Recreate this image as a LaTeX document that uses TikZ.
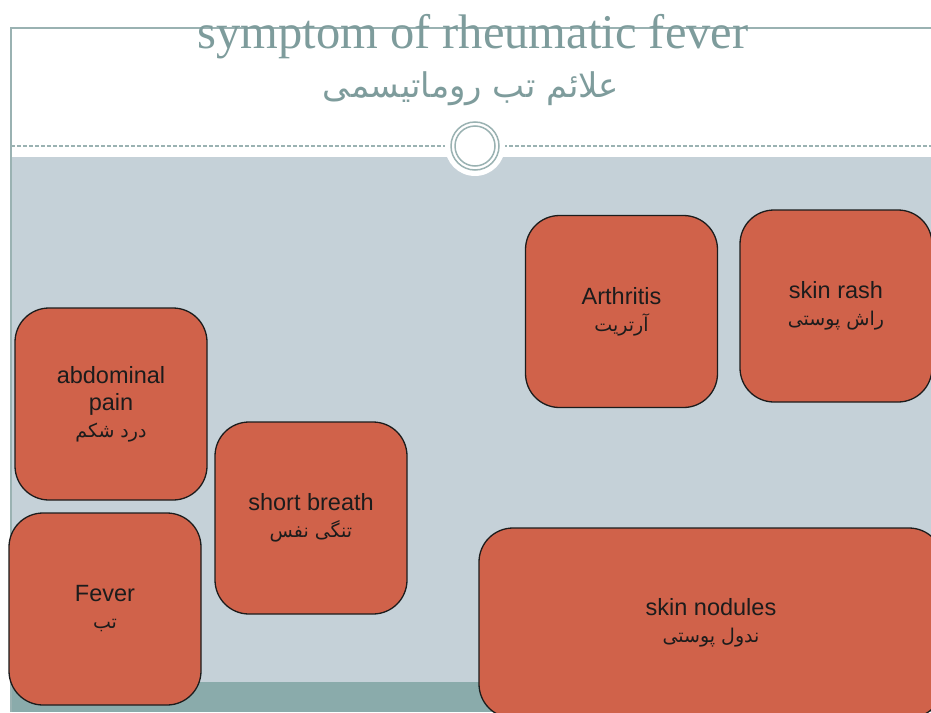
\documentclass[tikz,border=0pt]{standalone}
\usepackage{fontspec}
\setmainfont{Liberation Sans}
\newfontfamily\titlefont{Liberation Serif}
\newfontfamily\fa[Script=Arabic]{DejaVu Sans}
\TeXXeTstate=1
\definecolor{framec}{HTML}{9AB2B2}
\definecolor{titlec}{HTML}{7E9C9C}
\definecolor{bgc}{HTML}{C5D1D8}
\definecolor{bandc}{HTML}{8AABAB}
\definecolor{boxc}{HTML}{D0624A}
\definecolor{inkc}{HTML}{1C1C1C}
\tikzset{
  symbox/.style={draw=inkc, line width=1.3pt, fill=boxc, rounded corners=34pt,
    minimum width=192pt, minimum height=192pt, align=center, text=inkc,
    inner sep=0pt, font=\fontsize{23.5}{27}\selectfont},
}
\newcommand{\fatext}[1]{{\fa\fontsize{19}{27}\selectfont\beginR #1\endR}}
\begin{document}
\begin{tikzpicture}[x=1pt,y=-1pt]
\useasboundingbox (0,0) rectangle (931,712);
\clip (0,0) rectangle (931,712);
\fill[white] (0,0) rectangle (931,712);
% background regions
\fill[bgc] (11,157) rectangle (931,712);
\fill[bandc] (11,682) rectangle (931,712);
% frame
\draw[framec, line width=2pt] (11,712) -- (11,28) -- (931,28);
% dashed separator
\draw[framec, line width=1.3pt, dash pattern=on 4pt off 2pt] (11,146) -- (931,146);
% circle ornament
\fill[white] (475,146) circle (30);
\node[circle, draw=framec, line width=1.5pt, minimum size=48pt, inner sep=0pt] (orn) at (475,146) {};
\node[circle, draw=framec, line width=1.5pt, minimum size=40pt, inner sep=0pt] (ornin) at (475,146) {};
% titles
\node[text=titlec, font=\titlefont\fontsize{48.5}{52}\selectfont, inner sep=0pt] (title) at (473,37) {symptom of rheumatic fever};
\node[text=titlec, font=\fa\fontsize{34}{36}\selectfont, inner sep=0pt] (subtitle) at (471,89) {\beginR علائم تب روماتیسمی\endR};
% boxes
\node[symbox] (arth) at (621.5,311.5) {Arthritis\\\fatext{آرتریت}};
\node[symbox] (rash) at (836,306) {skin rash\\\fatext{راش پوستی}};
\node[symbox] (abd) at (111,404) {abdominal\\pain\\\fatext{درد شکم}};
\node[symbox] (breath) at (311,518) {short breath\\\fatext{تنگی نفس}};
\node[symbox] (fever) at (105,609) {Fever\\\fatext{تب}};
\node[symbox, minimum width=464pt, minimum height=190pt] (nod) at (711,623) {skin nodules\\\fatext{ندول پوستی}};
\end{tikzpicture}
\end{document}
